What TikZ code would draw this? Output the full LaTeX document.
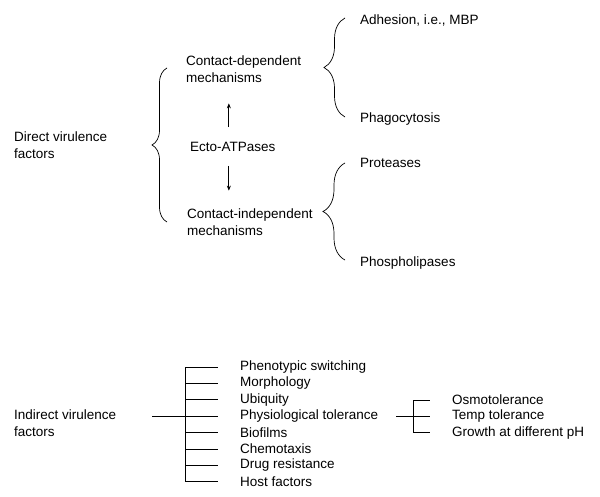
\documentclass[tikz,border=0pt]{standalone}
\usepackage{fontspec}
\setmainfont{Liberation Sans}
\usetikzlibrary{arrows.meta,decorations.pathreplacing}

\tikzset{
  txt/.style={anchor=west, inner sep=0pt, align=left,
    font=\fontsize{13.5}{16.4}\selectfont},
  lnk/.style={line width=0.7pt},
  brc/.style={lnk, decorate, decoration={brace, amplitude=#1}},
  arr/.style={lnk, -{Stealth[length=5pt,width=4pt]}}
}

\begin{document}
\begin{tikzpicture}[x=1pt, y=-1pt]
    \useasboundingbox (0, 0) rectangle (600, 497);
    % direct virulence factors
    \node [txt] (direct) at (14, 145) {Direct virulence\\factors};
    \node [txt] (cdep) at (186, 69) {Contact-dependent\\mechanisms};
    \node [txt] (ecto) at (190, 147) {Ecto-ATPases};
    \node [txt] (cind) at (187, 222) {Contact-independent\\mechanisms};
    \node [txt] (adh) at (360, 20) {Adhesion, i.e., MBP};
    \node [txt] (phago) at (360, 119) {Phagocytosis};
    \node [txt] (prot) at (360, 163) {Proteases};
    \node [txt] (phos) at (360, 263) {Phospholipases};
    \draw [brc=15pt] (167, 222) -- (167, 68);
    \draw [brc=21pt] (345, 117) -- (345, 18);
    \draw [brc=22pt] (345, 260) -- (345, 163);
    \draw [arr, shorten <=15pt, shorten >=21pt] ([xshift=-4pt]ecto.north) -- ([xshift=-4pt]ecto.north |- cdep.south);
    \draw [arr, shorten <=14pt, shorten >=18pt] ([xshift=-4pt]ecto.south) -- ([xshift=-4pt]ecto.south |- cind.north);
    % indirect virulence factors
    \node [txt] (indirect) at (14, 423) {Indirect virulence\\factors};
    \foreach \nm/\lbl [count=\i] in {phen/Phenotypic switching, morph/Morphology,
        ubiq/Ubiquity, phys/Physiological tolerance, biof/Biofilms,
        chemo/Chemotaxis, drug/Drug resistance, host/Host factors} {
      \node [txt] (\nm) at (240, 367 + 16.4*\i - 16.4) {\lbl};
      \draw [lnk] ([xshift=-55pt]\nm.west) -- ([xshift=-22pt]\nm.west);
    }
    \draw [lnk] ([xshift=-55pt]phen.west) -- ([xshift=-55pt]host.west);
    \draw [lnk] ([xshift=-88pt]phys.west) -- ([xshift=-55pt]phys.west);
    \foreach \nm/\lbl [count=\i] in {osmo/Osmotolerance, temp/Temp tolerance,
        growth/Growth at different pH} {
      \node [txt] (\nm) at (452, 400 + 16.4*\i - 16.4) {\lbl};
      \draw [lnk] ([xshift=-39pt]\nm.west) -- ([xshift=-22pt]\nm.west);
    }
    \draw [lnk] ([xshift=-39pt]osmo.west) -- ([xshift=-39pt]growth.west);
    \draw [lnk] ([xshift=-56pt]temp.west) -- ([xshift=-39pt]temp.west);
\end{tikzpicture}
\end{document}
